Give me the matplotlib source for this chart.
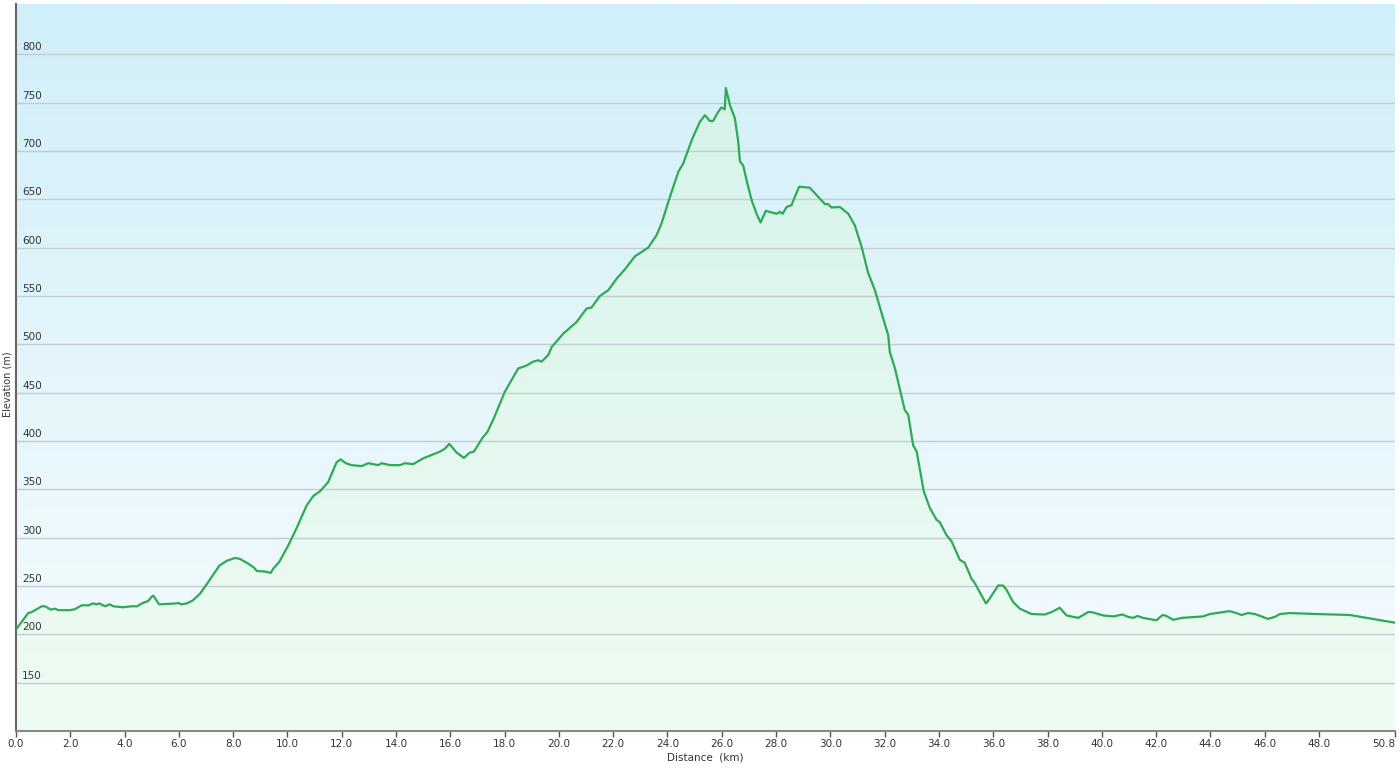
import numpy as np
import matplotlib.pyplot as plt
from matplotlib.colors import LinearSegmentedColormap
from matplotlib.patches import Polygon
from matplotlib.transforms import blended_transform_factory, offset_copy

# elevation profile (km, m)
distance_km = [
    0.0, 0.45, 0.58, 0.95, 1.07, 1.28, 1.44, 1.56, 1.99, 2.17, 2.42, 2.66, 2.85, 2.97,
    3.07, 3.28, 3.46, 3.58, 3.95, 4.26, 4.47, 4.63, 4.87, 5.0, 5.06, 5.27, 5.92, 5.98,
    6.1, 6.29, 6.51, 6.78, 7.08, 7.49, 7.76, 8.07, 8.25, 8.56, 8.77, 8.87, 9.17, 9.38,
    9.48, 9.7, 10.03, 10.34, 10.71, 10.95, 11.2, 11.5, 11.81, 11.96, 12.15, 12.36, 12.73,
    12.98, 13.34, 13.47, 13.78, 14.14, 14.33, 14.63, 15.0, 15.62, 15.8, 15.96, 16.23,
    16.5, 16.72, 16.87, 17.19, 17.36, 17.58, 17.83, 18.01, 18.5, 18.81, 19.05, 19.24,
    19.36, 19.61, 19.73, 20.16, 20.65, 21.02, 21.2, 21.51, 21.82, 22.13, 22.43, 22.8,
    23.29, 23.6, 23.78, 24.09, 24.4, 24.58, 24.89, 25.19, 25.38, 25.56, 25.68, 25.87,
    25.99, 26.11, 26.15, 26.3, 26.48, 26.6, 26.67, 26.79, 26.91, 27.1, 27.28, 27.43,
    27.62, 28.02, 28.14, 28.24, 28.39, 28.57, 28.69, 28.85, 29.24, 29.55, 29.8, 29.92,
    30.04, 30.35, 30.66, 30.9, 31.15, 31.39, 31.64, 31.89, 32.13, 32.19, 32.38, 32.74,
    32.87, 33.05, 33.18, 33.44, 33.66, 33.91, 34.03, 34.28, 34.46, 34.77, 34.95, 35.2,
    35.32, 35.73, 35.81, 36.18, 36.36, 36.49, 36.73, 36.98, 37.41, 37.9, 38.15, 38.45,
    38.7, 39.13, 39.5, 39.62, 40.05, 40.42, 40.76, 40.97, 41.15, 41.31, 41.52, 42.01,
    42.24, 42.38, 42.63, 42.94, 43.73, 43.98, 44.35, 44.71, 44.9, 45.15, 45.39, 45.64,
    46.12, 46.37, 46.56, 46.93, 47.91, 49.13, 50.8,
]
elevation_m = [
    205, 222, 223, 229, 229, 225.5, 226.5, 225, 225, 226, 230, 230, 232, 231,
    232, 229, 231, 229, 228, 229, 229, 232, 234.5, 239, 240, 231, 232, 232.5,
    231, 232, 235, 242, 254, 271, 276, 279, 278, 273, 269, 265.5, 265, 263.5,
    268, 275, 292, 310, 333.5, 343, 348, 357.5, 378, 381, 377, 375, 374,
    377, 375, 377, 375, 375, 377, 376, 382, 389, 392, 397, 388,
    382.5, 388, 389, 403.5, 409, 422, 439, 451, 475, 478, 482, 483.5,
    482, 489, 497, 511, 523, 537, 538, 550, 556, 568, 577.5, 591,
    600, 613, 625, 652.5, 678.5, 687, 711, 730, 737, 731, 731, 740.5,
    745, 743, 765, 747.5, 734, 711, 689, 685, 670, 649, 635, 626,
    638, 635, 637, 635, 642, 644, 652.5, 663, 662, 652.5, 645, 645,
    641.5, 642, 635, 623, 601, 574, 556, 532, 509.5, 492, 475, 432,
    427, 395.5, 389, 348, 331, 318.5, 316, 302.5, 296.5, 277, 274, 257.5,
    253, 232, 234.5, 250.5, 250.5, 246, 233.5, 226.5, 221, 220.5, 223, 227.5,
    219.5, 217, 223, 223, 219.5, 218.5, 220.5, 218, 217, 219, 217, 214.5,
    220, 219, 215, 217, 218.5, 221, 222.5, 224, 222.5, 220, 222, 221,
    216, 218, 221, 222, 221, 220, 212,
]

x_ticks = [0, 2, 4, 6, 8, 10, 12, 14, 16, 18, 20, 22, 24, 26, 28, 30, 32, 34, 36,
           38, 40, 42, 44, 46, 48, 50.8]
y_ticks = [150, 200, 250, 300, 350, 400, 450, 500, 550, 600, 650, 700, 750, 800]

x_min, x_max = 0, 50.8
y_min, y_max = 100, 852

fig = plt.figure(figsize=(14, 7.68), dpi=100)
ax = fig.add_axes([16 / 1400, 37 / 768, 1379 / 1400, 727 / 768])
ax.set_xlim(x_min, x_max)
ax.set_ylim(y_min, y_max)

# sky-blue background gradient
bg = LinearSegmentedColormap.from_list("bg", ["#f7fcfe", "#d0eff9"])
grad = np.linspace(0, 1, 256).reshape(-1, 1)
ax.imshow(grad, cmap=bg, origin="lower", aspect="auto",
          extent=[x_min, x_max, y_min, y_max], zorder=0)

# green gradient fill clipped to the area under the profile
fill_cm = LinearSegmentedColormap.from_list("fill", ["#effcf3", "#d6f3ea"])
fill_img = ax.imshow(grad, cmap=fill_cm, origin="lower", aspect="auto",
                     extent=[x_min, x_max, y_min, max(elevation_m)], zorder=1)
verts = [(x_min, y_min)] + list(zip(distance_km, elevation_m)) + [(x_max, y_min)]
clip = Polygon(verts, closed=True, transform=ax.transData, facecolor="none", edgecolor="none")
ax.add_patch(clip)
fill_img.set_clip_path(clip)

for yv in y_ticks:
    ax.axhline(yv, color="#c3ccd0", lw=1.0, zorder=2)

ax.plot(distance_km, elevation_m, color="#2eaa55", lw=1.6, zorder=3, solid_joinstyle="round")

# y labels sit inside the plot, just above each grid line
trans = offset_copy(blended_transform_factory(ax.transAxes, ax.transData),
                    fig=fig, x=0, y=2, units="dots")
for yv in y_ticks:
    ax.text(6 / 1379, yv, str(yv), transform=trans, fontsize=7.5,
            color="#333333", ha="left", va="bottom", zorder=4)
ax.set_yticks([])

ax.set_xticks(x_ticks)
labels = ax.set_xticklabels([f"{v:.1f}" for v in x_ticks], fontsize=7.5, color="#333333")
labels[-1].set_horizontalalignment("right")
ax.tick_params(axis="x", direction="out", length=4, width=1, color="#555555", pad=2)

for side in ["top", "right"]:
    ax.spines[side].set_visible(False)
ax.spines["left"].set_color("#666666")
ax.spines["left"].set_linewidth(1.5)
ax.spines["bottom"].set_color("#888888")
ax.spines["bottom"].set_linewidth(1.5)

ax.set_xlabel("Distance  (km)", fontsize=7.5, color="#333333", labelpad=2)
fig.text(8 / 1400, 0.5, "Elevation (m)", rotation=90, fontsize=7,
         color="#333333", ha="center", va="center")

fig.savefig("out.png", dpi=100)
